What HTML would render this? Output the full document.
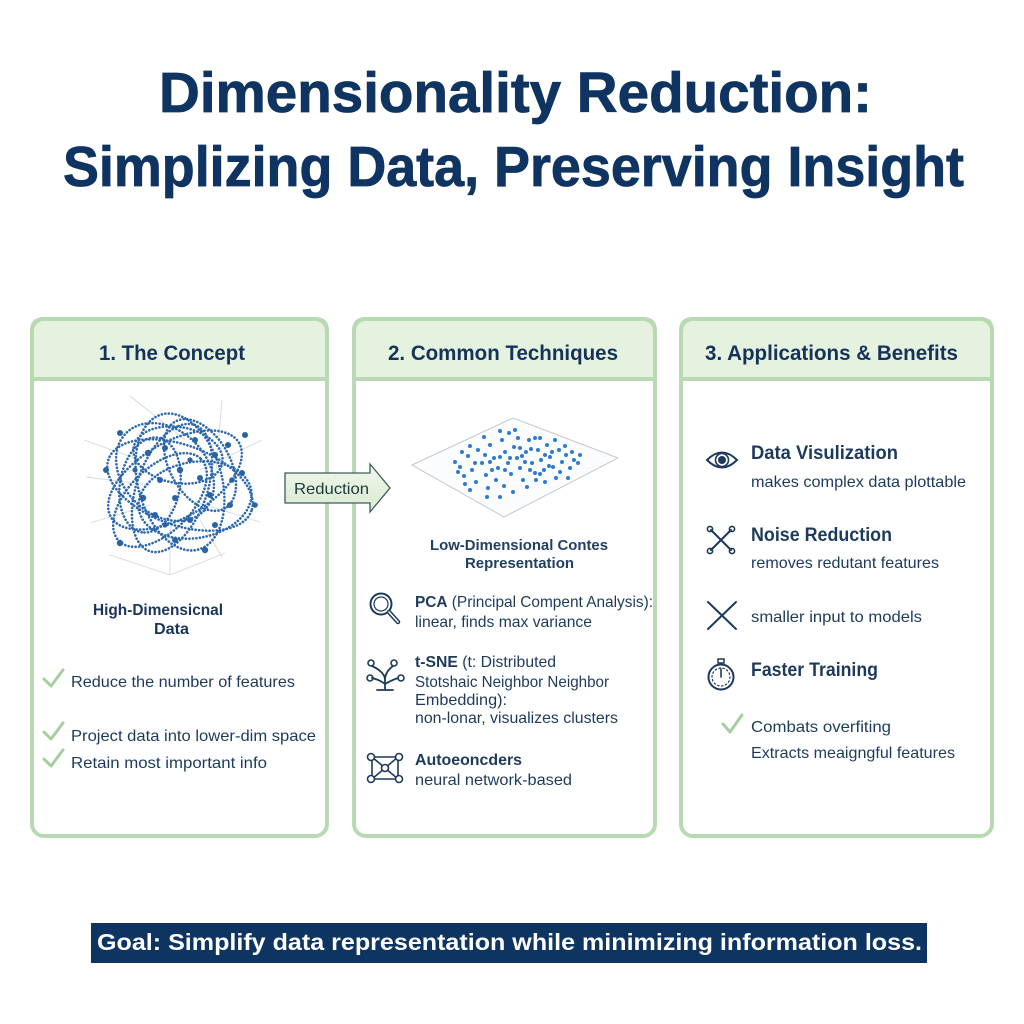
<!DOCTYPE html>
<html><head><meta charset="utf-8"><style>
html,body{margin:0;padding:0;background:#fff;}
svg{display:block;}
text{font-family:"Liberation Sans",Arial,sans-serif;}
</style></head><body>
<svg width="1024" height="1024" viewBox="0 0 1024 1024" xmlns="http://www.w3.org/2000/svg">
<defs>
<linearGradient id="ag" x1="0" y1="0" x2="0" y2="1">
<stop offset="0" stop-color="#f0f7eb"/><stop offset="1" stop-color="#d9ead0"/>
</linearGradient>
</defs>
<rect width="1024" height="1024" fill="#fff"/>

<!-- Title -->
<text x="159" y="112" font-size="57" font-weight="bold" fill="#0f3461" stroke="#0f3461" stroke-width="0.8" textLength="713" lengthAdjust="spacingAndGlyphs">Dimensionality Reduction:</text>
<text x="63" y="186" font-size="57" font-weight="bold" fill="#0f3461" stroke="#0f3461" stroke-width="0.8" textLength="901" lengthAdjust="spacingAndGlyphs">Simplizing Data, Preserving Insight</text>

<!-- Panels -->
<g stroke="#b9d9b4" stroke-width="4">
<path d="M32,379 V331 Q32,319 44,319 H315 Q327,319 327,331 V379 Z" fill="#e5f2df"/>
<rect x="32" y="319" width="295" height="517" rx="12" fill="none"/>
<line x1="32" y1="379" x2="327" y2="379"/>
<path d="M354,379 V331 Q354,319 366,319 H643 Q655,319 655,331 V379 Z" fill="#e5f2df"/>
<rect x="354" y="319" width="301" height="517" rx="12" fill="none"/>
<line x1="354" y1="379" x2="655" y2="379"/>
<path d="M681,379 V331 Q681,319 693,319 H980 Q992,319 992,331 V379 Z" fill="#e5f2df"/>
<rect x="681" y="319" width="311" height="517" rx="12" fill="none"/>
<line x1="681" y1="379" x2="992" y2="379"/>
</g>

<text x="99" y="360" font-size="21" font-weight="bold" fill="#15325a" textLength="146" lengthAdjust="spacingAndGlyphs">1. The Concept</text>
<text x="388" y="360" font-size="21" font-weight="bold" fill="#15325a" textLength="230" lengthAdjust="spacingAndGlyphs">2. Common Techniques</text>
<text x="705" y="360" font-size="21" font-weight="bold" fill="#15325a" textLength="253" lengthAdjust="spacingAndGlyphs">3. Applications &amp; Benefits</text>

<!-- Tangle (panel 1) -->
<g stroke="#d3d9de" stroke-width="0.9" fill="none">
<line x1="130" y1="396" x2="185" y2="440"/>
<line x1="222" y1="400" x2="216" y2="470"/>
<line x1="262" y1="440" x2="200" y2="470"/>
<line x1="86" y1="477" x2="150" y2="485"/>
<line x1="260" y1="522" x2="190" y2="500"/>
<line x1="170" y1="575" x2="170" y2="505"/>
<line x1="90" y1="523" x2="150" y2="505"/>
<line x1="222" y1="557" x2="200" y2="520"/>
<line x1="110" y1="555" x2="170" y2="575"/>
<line x1="170" y1="575" x2="225" y2="553"/>
<line x1="84" y1="440" x2="140" y2="460"/>
</g>
<g stroke="#2c68ad" stroke-width="2.6" stroke-linecap="round" stroke-dasharray="0.1 3.4" fill="none">
<ellipse cx="180" cy="485" rx="76" ry="40" transform="rotate(20 180 485)"/>
<ellipse cx="175" cy="480" rx="74" ry="38" transform="rotate(-30 175 480)"/>
<ellipse cx="180" cy="482" rx="70" ry="42" transform="rotate(75 180 482)"/>
<ellipse cx="172" cy="488" rx="67" ry="35" transform="rotate(-70 172 488)"/>
<ellipse cx="165" cy="472" rx="55" ry="42" transform="rotate(45 165 472)"/>
<ellipse cx="195" cy="500" rx="57" ry="38" transform="rotate(-10 195 500)"/>
<ellipse cx="200" cy="465" rx="50" ry="30" transform="rotate(60 200 465)"/>
<ellipse cx="160" cy="500" rx="58" ry="32" transform="rotate(-45 160 500)"/>
<ellipse cx="178" cy="455" rx="45" ry="28" transform="rotate(10 178 455)"/>
<ellipse cx="150" cy="485" rx="48" ry="30" transform="rotate(100 150 485)"/>
</g>
<g fill="#2a62a6">
<circle cx="148" cy="453" r="3.2"/><circle cx="165" cy="448" r="3"/><circle cx="195" cy="440" r="3"/>
<circle cx="215" cy="455" r="3"/><circle cx="228" cy="445" r="3"/><circle cx="180" cy="470" r="3.2"/>
<circle cx="160" cy="480" r="3"/><circle cx="200" cy="478" r="3"/><circle cx="143" cy="498" r="3.2"/>
<circle cx="175" cy="498" r="3"/><circle cx="210" cy="495" r="3"/><circle cx="230" cy="505" r="3"/>
<circle cx="155" cy="515" r="3"/><circle cx="190" cy="520" r="3"/><circle cx="215" cy="525" r="3"/>
<circle cx="120" cy="543" r="3.2"/><circle cx="175" cy="540" r="3"/><circle cx="205" cy="550" r="3.2"/>
<circle cx="106" cy="470" r="3"/><circle cx="242" cy="473" r="3"/><circle cx="255" cy="505" r="2.8"/>
<circle cx="245" cy="435" r="3"/><circle cx="120" cy="433" r="3"/><circle cx="232" cy="480" r="2.8"/>
<circle cx="135" cy="470" r="2.6"/><circle cx="190" cy="460" r="2.6"/><circle cx="165" cy="525" r="2.6"/>
</g>

<text x="93" y="615" font-size="15.5" font-weight="bold" fill="#1a355a" textLength="130" lengthAdjust="spacingAndGlyphs">High-Dimensicnal</text>
<text x="154" y="634" font-size="15.5" font-weight="bold" fill="#1a355a" textLength="35" lengthAdjust="spacingAndGlyphs">Data</text>

<g stroke="#a6cf9e" stroke-width="3" stroke-linecap="round" stroke-linejoin="round" fill="none">
<path d="M44,679 L51,686 L63,670"/>
<path d="M44,732 L51,739 L63,723"/>
<path d="M44,759 L51,766 L63,750"/>
<path d="M723,724 L730,732 L742,715"/>
</g>
<g font-size="16" fill="#1d3a5c">
<text x="71" y="687" textLength="224" lengthAdjust="spacingAndGlyphs">Reduce the number of features</text>
<text x="71" y="741" textLength="245" lengthAdjust="spacingAndGlyphs">Project data into lower-dim space</text>
<text x="71" y="768" textLength="196" lengthAdjust="spacingAndGlyphs">Retain most important info</text>
</g>

<!-- Reduction arrow -->
<path d="M285,473 H370 V464 L390,488 L370,512 V503 H285 Z" fill="url(#ag)" stroke="#3f5b5f" stroke-width="1.3" stroke-linejoin="miter"/>
<text x="294" y="494" font-size="16" fill="#1d3a3c" textLength="75" lengthAdjust="spacingAndGlyphs">Reduction</text>

<!-- Panel 2 plane -->
<path d="M412,465 L513,418 L618,458 L504,517 Z" fill="#fbfcfd" stroke="#c3c9ce" stroke-width="1"/>
<g fill="#2f7bd0">
<circle cx="455" cy="462" r="2"/><circle cx="460" cy="467" r="2"/><circle cx="468" cy="456" r="2"/><circle cx="472" cy="470" r="2"/>
<circle cx="478" cy="450" r="2"/><circle cx="482" cy="463" r="2"/><circle cx="486" cy="475" r="2"/><circle cx="490" cy="445" r="2"/>
<circle cx="494" cy="458" r="2"/><circle cx="498" cy="468" r="2"/><circle cx="502" cy="440" r="2"/><circle cx="505" cy="452" r="2"/>
<circle cx="508" cy="463" r="2"/><circle cx="511" cy="474" r="2"/><circle cx="514" cy="447" r="2"/><circle cx="517" cy="458" r="2"/>
<circle cx="520" cy="468" r="2"/><circle cx="523" cy="480" r="2"/><circle cx="526" cy="452" r="2"/><circle cx="529" cy="440" r="2"/>
<circle cx="532" cy="463" r="2"/><circle cx="535" cy="473" r="2"/><circle cx="538" cy="450" r="2"/><circle cx="541" cy="460" r="2"/>
<circle cx="544" cy="470" r="2"/><circle cx="547" cy="445" r="2"/><circle cx="550" cy="457" r="2"/><circle cx="553" cy="467" r="2"/>
<circle cx="556" cy="478" r="2"/><circle cx="559" cy="450" r="2"/><circle cx="562" cy="462" r="2"/><circle cx="566" cy="455" r="2"/>
<circle cx="570" cy="468" r="2"/><circle cx="574" cy="460" r="2"/><circle cx="578" cy="463" r="2"/><circle cx="464" cy="476" r="2"/>
<circle cx="470" cy="446" r="2"/><circle cx="476" cy="482" r="2"/><circle cx="484" cy="437" r="2"/><circle cx="488" cy="488" r="2"/>
<circle cx="492" cy="470" r="2"/><circle cx="496" cy="480" r="2"/><circle cx="500" cy="457" r="2"/><circle cx="504" cy="486" r="2"/>
<circle cx="509" cy="433" r="2"/><circle cx="513" cy="492" r="2"/><circle cx="518" cy="438" r="2"/><circle cx="522" cy="456" r="2"/>
<circle cx="527" cy="487" r="2"/><circle cx="531" cy="449" r="2"/><circle cx="536" cy="480" r="2"/><circle cx="540" cy="438" r="2"/>
<circle cx="545" cy="482" r="2"/><circle cx="549" cy="466" r="2"/><circle cx="555" cy="440" r="2"/><circle cx="560" cy="472" r="2"/>
<circle cx="565" cy="446" r="2"/><circle cx="568" cy="478" r="2"/><circle cx="572" cy="452" r="2"/><circle cx="500" cy="431" r="2"/>
<circle cx="515" cy="430" r="2"/><circle cx="485" cy="455" r="2"/><circle cx="475" cy="463" r="2"/><circle cx="458" cy="472" r="2"/>
<circle cx="465" cy="484" r="2"/><circle cx="520" cy="448" r="2"/><circle cx="510" cy="458" r="2"/><circle cx="530" cy="470" r="2"/>
<circle cx="545" cy="455" r="2"/><circle cx="490" cy="462" r="2"/><circle cx="505" cy="470" r="2"/><circle cx="525" cy="462" r="2"/>
<circle cx="540" cy="474" r="2"/><circle cx="552" cy="452" r="2"/><circle cx="470" cy="490" r="2"/><circle cx="500" cy="497" r="2"/>
<circle cx="487" cy="497" r="2"/><circle cx="580" cy="455" r="2"/><circle cx="462" cy="452" r="2"/><circle cx="535" cy="438" r="2"/>
</g>
<text x="430" y="550" font-size="14.5" font-weight="bold" fill="#22405f" textLength="178" lengthAdjust="spacingAndGlyphs">Low-Dimensional Contes</text>
<text x="465" y="568" font-size="14.5" font-weight="bold" fill="#22405f" textLength="109" lengthAdjust="spacingAndGlyphs">Representation</text>

<!-- Panel 2 icons -->
<g stroke="#1d3a5c" fill="none" stroke-width="2" stroke-linecap="round">
<circle cx="381" cy="604" r="10.5"/>
<circle cx="381" cy="604" r="7" stroke-width="1.2"/>
<line x1="389" y1="612" x2="398" y2="622" stroke-width="4.5"/>
<line x1="389" y1="612" x2="398" y2="622" stroke="#fff" stroke-width="1.6"/>
<path d="M385,690 V678 M385,680 Q385,672 372,666 M385,680 Q385,672 393,666 M385,684 Q380,680 372,678 M385,684 Q392,680 398,678 M377,690 H393" stroke-width="1.8"/>
<circle cx="371" cy="663" r="3" stroke-width="1.6"/><circle cx="394" cy="663" r="3" stroke-width="1.6"/>
<circle cx="370" cy="678" r="3" stroke-width="1.6"/><circle cx="401" cy="678" r="3" stroke-width="1.6"/>
<path d="M372,757 H398 M372,779 H398 M372,757 V779 M398,757 V779 M372,757 L398,779 M398,757 L372,779" stroke-width="1.6"/>
<circle cx="371" cy="757" r="3.5" fill="#fff" stroke-width="1.6"/><circle cx="399" cy="757" r="3.5" fill="#fff" stroke-width="1.6"/>
<circle cx="371" cy="779" r="3.5" fill="#fff" stroke-width="1.6"/><circle cx="399" cy="779" r="3.5" fill="#fff" stroke-width="1.6"/>
<circle cx="385" cy="768" r="3.5" fill="#fff" stroke-width="1.6"/>
</g>

<g font-size="16" fill="#1d3a5c">
<text x="415" y="607" textLength="238" lengthAdjust="spacingAndGlyphs"><tspan font-weight="bold">PCA</tspan> (Principal Compent Analysis):</text>
<text x="415" y="627" textLength="177" lengthAdjust="spacingAndGlyphs">linear, finds max variance</text>
<text x="415" y="667" textLength="141" lengthAdjust="spacingAndGlyphs"><tspan font-weight="bold">t-SNE</tspan> (t: Distributed</text>
<text x="415" y="687" textLength="194" lengthAdjust="spacingAndGlyphs">Stotshaic Neighbor Neighbor</text>
<text x="415" y="705" textLength="92" lengthAdjust="spacingAndGlyphs">Embedding):</text>
<text x="415" y="723" textLength="203" lengthAdjust="spacingAndGlyphs">non-lonar, visualizes clusters</text>
<text x="415" y="765" font-weight="bold" textLength="107" lengthAdjust="spacingAndGlyphs">Autoeoncders</text>
<text x="415" y="785" textLength="157" lengthAdjust="spacingAndGlyphs">neural network-based</text>
</g>

<!-- Panel 3 icons -->
<g stroke="#1d3a5c" fill="none" stroke-width="2" stroke-linecap="round">
<path d="M707,460 Q722,445 737,460 Q722,475 707,460 Z"/>
<circle cx="722" cy="460" r="6.5" stroke-width="1.6"/>
<circle cx="722" cy="460" r="4" fill="#1d3a5c" stroke="none"/>
<line x1="711" y1="530" x2="731" y2="550"/>
<line x1="731" y1="530" x2="711" y2="550"/>
<circle cx="710" cy="529" r="2.6" stroke-width="1.6"/><circle cx="732" cy="529" r="2.6" stroke-width="1.6"/>
<circle cx="710" cy="551" r="2.6" stroke-width="1.6"/><circle cx="732" cy="551" r="2.6" stroke-width="1.6"/>
<line x1="708" y1="602" x2="736" y2="629"/>
<line x1="736" y1="602" x2="708" y2="629"/>
<circle cx="721" cy="677" r="12.5"/>
<circle cx="721" cy="677" r="9" stroke-width="1.2" stroke-dasharray="1.5 2.5"/>
<rect x="718" y="659" width="6" height="4" stroke-width="1.5"/>
<line x1="721" y1="677" x2="721" y2="669" stroke-width="1.6"/>
</g>

<g fill="#1d3a5c">
<text x="751" y="459" font-size="19" font-weight="bold" textLength="147" lengthAdjust="spacingAndGlyphs">Data Visulization</text>
<text x="751" y="487" font-size="16" textLength="215" lengthAdjust="spacingAndGlyphs">makes complex data plottable</text>
<text x="751" y="541" font-size="19" font-weight="bold" textLength="141" lengthAdjust="spacingAndGlyphs">Noise Reduction</text>
<text x="751" y="568" font-size="16" textLength="188" lengthAdjust="spacingAndGlyphs">removes redutant features</text>
<text x="751" y="622" font-size="16" textLength="171" lengthAdjust="spacingAndGlyphs">smaller input to models</text>
<text x="751" y="676" font-size="19" font-weight="bold" textLength="127" lengthAdjust="spacingAndGlyphs">Faster Training</text>
<text x="751" y="732" font-size="16" textLength="140" lengthAdjust="spacingAndGlyphs">Combats overfiting</text>
<text x="751" y="758" font-size="16" textLength="204" lengthAdjust="spacingAndGlyphs">Extracts meaigngful features</text>
</g>

<!-- Goal banner -->
<rect x="91" y="923" width="836" height="40" fill="#0e3462"/>
<text x="97" y="950" font-size="23" font-weight="bold" fill="#ffffff" textLength="825" lengthAdjust="spacingAndGlyphs">Goal: Simplify data representation while minimizing information loss.</text>
</svg>
</body></html>
